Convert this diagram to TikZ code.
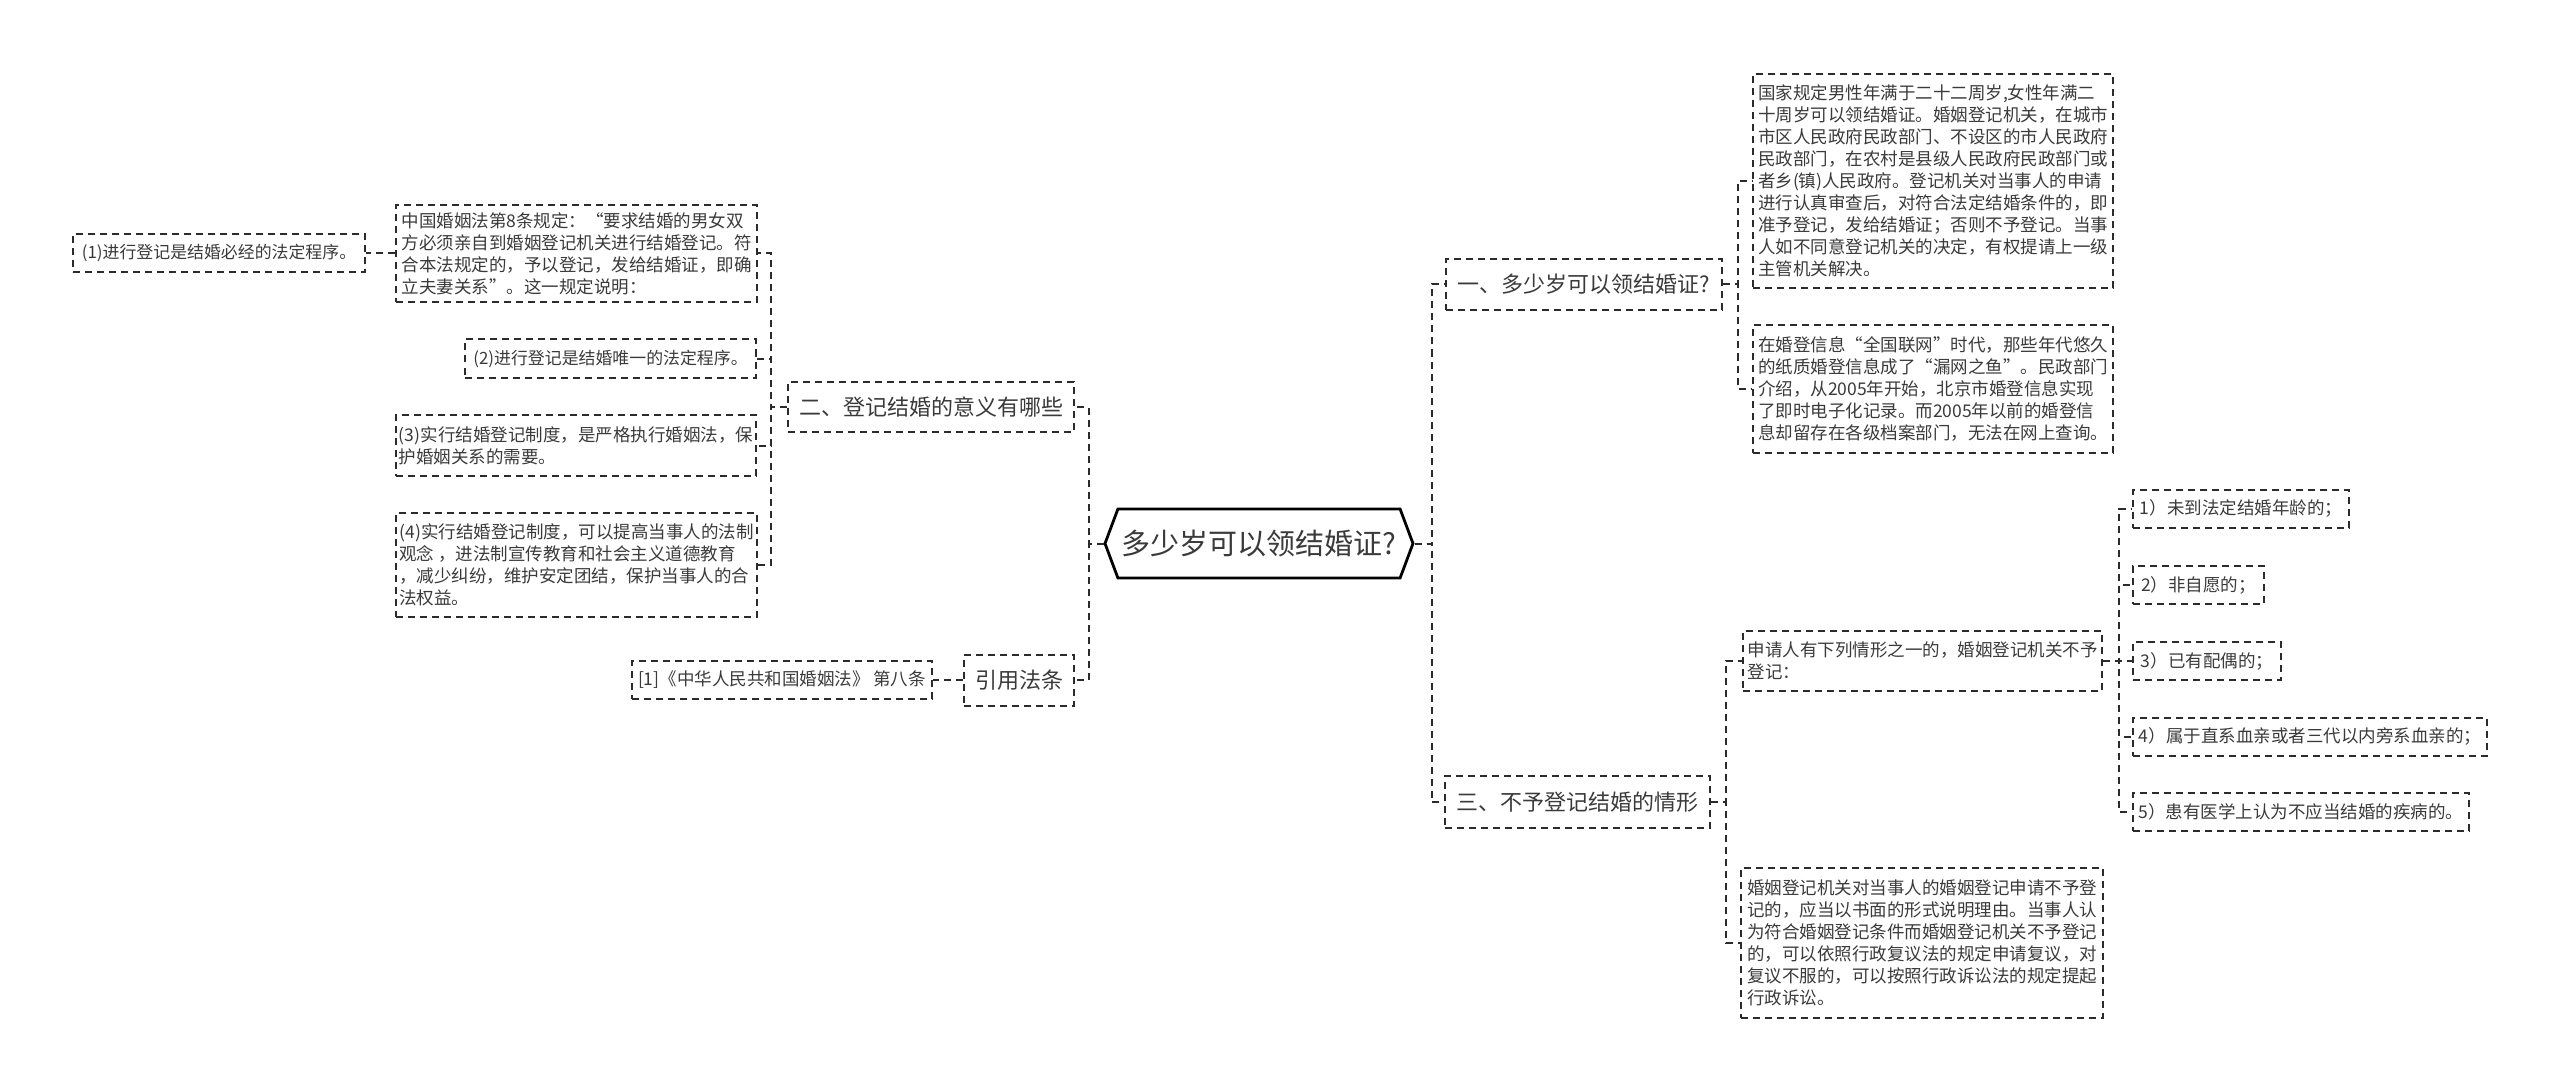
\documentclass[tikz,border=0pt]{standalone}
\usepackage{fontspec}
\setmainfont{Noto Sans CJK SC}
\usetikzlibrary{shapes.symbols}
\definecolor{MapInk}{HTML}{2B2B2B}
\definecolor{MapText}{HTML}{3A3A3A}
\tikzset{
  rootbox/.style={signal, signal to=west and east, signal pointer angle=139,
                  draw=black, line width=1.4pt, fill=white, inner sep=0pt,
                  font=\fontsize{14.5}{17}\selectfont\color{MapText},
                  minimum width=154pt, minimum height=34.5pt},
  branchbox/.style={draw=MapInk, dash pattern=on 3.5pt off 2.5pt, line width=1pt,
                    inner sep=0pt, font=\fontsize{11}{13}\selectfont\color{MapText}},
  leafbox/.style={draw=MapInk, dash pattern=on 3.5pt off 2.5pt, line width=1pt,
                  inner sep=0pt, align=left, minimum height=19pt,
                  font=\fontsize{8.75}{11}\selectfont\color{MapText}},
  smallleaf/.style={leafbox, font=\fontsize{8.45}{10}\selectfont\color{MapText}},
  link/.style={draw=MapInk, dash pattern=on 3.5pt off 2.5pt, line width=1pt},
}

\begin{document}
\begin{tikzpicture}[x=0.5pt, y=-0.5pt]

  \useasboundingbox (0,0) rectangle (2560,1091);

  % ---- Root ----
  \node[rootbox] (root) at (1259,543.5) {多少岁可以领结婚证?};

  % ---- Left branches ----
  \node[branchbox, minimum width=143pt, minimum height=25pt] (mean) at (931,407)
        {二、登记结婚的意义有哪些};
  \node[branchbox, minimum width=55pt, minimum height=25.5pt] (cite) at (1019,680)
        {引用法条};

  \node[leafbox, minimum width=180.5pt, minimum height=48.5pt] (law8) at (576.5,253.5)
        {中国婚姻法第8条规定：“要求结婚的男女双\\方必须亲自到婚姻登记机关进行结婚登记。符\\合本法规定的，予以登记，发给结婚证，即确\\立夫妻关系”。这一规定说明：};
  \node[smallleaf, minimum width=146pt] (must) at (219,253.5)
        {(1)进行登记是结婚必经的法定程序。};
  \node[smallleaf, minimum width=145.5pt] (only) at (610.5,358.5)
        {(2)进行登记是结婚唯一的法定程序。};
  \node[leafbox, minimum width=180pt, minimum height=30.5pt] (strict) at (576,445.5)
        {(3)实行结婚登记制度，是严格执行婚姻法，保\\护婚姻关系的需要。};
  \node[leafbox, minimum width=180.5pt, minimum height=52pt] (aware) at (576.5,565)
        {(4)实行结婚登记制度，可以提高当事人的法制\\观念 ，进法制宣传教育和社会主义道德教育\\，减少纠纷，维护安定团结，保护当事人的合\\法权益。};
  \node[leafbox, minimum width=150pt] (lawref) at (782,680)
        {[1]《中华人民共和国婚姻法》 第八条};

  % ---- Right branches ----
  \node[branchbox, minimum width=138pt, minimum height=25.5pt] (age) at (1584,284.5)
        {一、多少岁可以领结婚证?};
  \node[branchbox, minimum width=132.5pt, minimum height=26pt] (deny) at (1577.5,802)
        {三、不予登记结婚的情形};

  \node[leafbox, minimum width=180pt, minimum height=107pt] (rule) at (1933,181)
        {国家规定男性年满于二十二周岁,女性年满二\\十周岁可以领结婚证。婚姻登记机关，在城市\\市区人民政府民政部门、不设区的市人民政府\\民政部门，在农村是县级人民政府民政部门或\\者乡(镇)人民政府。登记机关对当事人的申请\\进行认真审查后，对符合法定结婚条件的，即\\准予登记，发给结婚证；否则不予登记。当事\\人如不同意登记机关的决定，有权提请上一级\\主管机关解决。};
  \node[leafbox, minimum width=180pt, minimum height=64pt] (online) at (1933,389)
        {在婚登信息“全国联网”时代，那些年代悠久\\的纸质婚登信息成了“漏网之鱼”。民政部门\\介绍，从2005年开始，北京市婚登信息实现\\了即时电子化记录。而2005年以前的婚登信\\息却留存在各级档案部门，无法在网上查询。};

  \node[leafbox, minimum width=179.5pt, minimum height=30pt] (apply) at (1922.5,661)
        {申请人有下列情形之一的，婚姻登记机关不予\\登记：};
  \node[leafbox, minimum width=181pt, minimum height=75pt] (appeal) at (1922,943)
        {婚姻登记机关对当事人的婚姻登记申请不予登\\记的，应当以书面的形式说明理由。当事人认\\为符合婚姻登记条件而婚姻登记机关不予登记\\的，可以依照行政复议法的规定申请复议，对\\复议不服的，可以按照行政诉讼法的规定提起\\行政诉讼。};

  \node[leafbox, minimum width=108pt] (young)  at (2241,508.5) {1）未到法定结婚年龄的；};
  \node[leafbox, minimum width=65.5pt] (forced) at (2198.5,585) {2）非自愿的；};
  \node[leafbox, minimum width=74pt] (wed)    at (2207,661)   {3）已有配偶的；};
  \node[leafbox, minimum width=177pt] (kin)    at (2310,736.5) {4）属于直系血亲或者三代以内旁系血亲的；};
  \node[leafbox, minimum width=168pt] (ill)    at (2301,812)   {5）患有医学上认为不应当结婚的疾病的。};

  % ---- Connectors ----
  \draw[link] (root.west) -- ++(-15,0) |- (mean.east);
  \draw[link] (root.west) -- ++(-15,0) |- (cite.east);
  \draw[link] (root.east) -- ++(17,0) |- (age.west);
  \draw[link] (root.east) -- ++(17,0) |- (deny.west);

  \draw[link] (mean.west) -- ++(-16,0) |- (law8.east);
  \draw[link] (mean.west) -- ++(-16,0) |- (only.east);
  \draw[link] (mean.west) -- ++(-16,0) |- (strict.east);
  \draw[link] (mean.west) -- ++(-16,0) |- (aware.east);
  \draw[link] (law8.west) -- (must.east);
  \draw[link] (cite.west) -- (lawref.east);

  \draw[link] (age.east) -- ++(15,0) |- (rule.west);
  \draw[link] (age.east) -- ++(15,0) |- (online.west);
  \draw[link] (deny.east) -- ++(15,0) |- (apply.west);
  \draw[link] (deny.east) -- ++(15,0) |- (appeal.west);

  \draw[link] (apply.east) -- ++(16,0) |- (young.west);
  \draw[link] (apply.east) -- ++(16,0) |- (forced.west);
  \draw[link] (apply.east) -- ++(16,0) |- (wed.west);
  \draw[link] (apply.east) -- ++(16,0) |- (kin.west);
  \draw[link] (apply.east) -- ++(16,0) |- (ill.west);

\end{tikzpicture}
\end{document}
